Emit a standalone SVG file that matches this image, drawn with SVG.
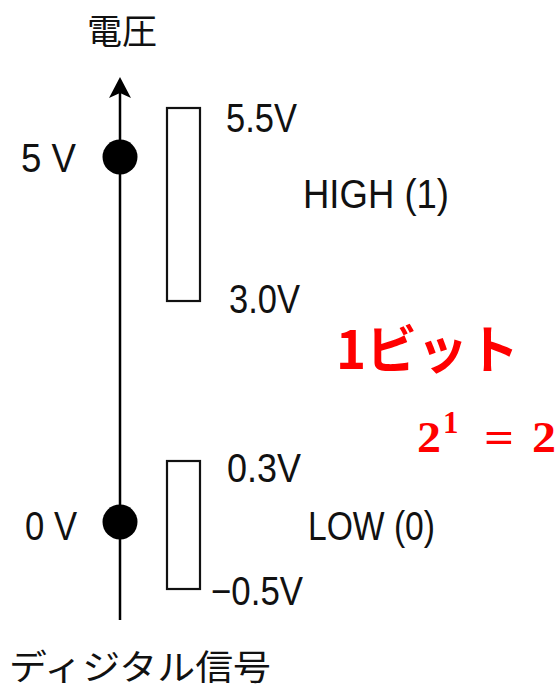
<svg xmlns="http://www.w3.org/2000/svg" width="559" height="690" viewBox="0 0 559 690">
<style>
.t{font-family:"Liberation Sans","Noto Sans CJK JP",sans-serif;font-size:40px;fill:#111}
.j{font-family:"Noto Sans CJK JP",sans-serif;font-size:35px;fill:#111}
.r{font-family:"Noto Sans CJK JP",sans-serif;font-weight:bold;font-size:52px;fill:#ff0000}
.m{font-family:"Liberation Serif",serif;font-weight:bold;fill:#ff0000}
.box{fill:#fff;stroke:#111;stroke-width:2.2}
</style>
<rect width="559" height="690" fill="#fff"/>
<g id="connectors">
<line x1="120" y1="620" x2="120" y2="92" stroke="#000" stroke-width="2.5"/>
<path d="M120 77 L131 98 L120 93 L109 98 Z" fill="#000"/>
</g>
<g id="axis-label"><text class="j" x="87" y="44">電圧</text></g>
<g id="axis-bottom-label"><text class="j" x="9" y="680" textLength="262" lengthAdjust="spacingAndGlyphs">ディジタル信号</text></g>
<g id="dot-5v"><circle cx="120" cy="157" r="17.5" fill="#000"/><text class="t" x="21" y="172" textLength="55" lengthAdjust="spacingAndGlyphs">5 V</text></g>
<g id="dot-0v"><circle cx="120" cy="522" r="17.5" fill="#000"/><text class="t" x="25" y="540" textLength="52" lengthAdjust="spacingAndGlyphs">0 V</text></g>
<g id="high-range">
<rect class="box" x="167" y="108" width="33" height="193"/>
<text class="t" x="226" y="132" textLength="71" lengthAdjust="spacingAndGlyphs">5.5V</text>
<text class="t" x="229" y="313" textLength="71" lengthAdjust="spacingAndGlyphs">3.0V</text>
<text class="t" x="303" y="208" textLength="146" lengthAdjust="spacingAndGlyphs">HIGH (1)</text>
</g>
<g id="low-range">
<rect class="box" x="167" y="461" width="33" height="128"/>
<text class="t" x="227" y="482" textLength="74" lengthAdjust="spacingAndGlyphs">0.3V</text>
<text class="t" x="211" y="605" textLength="92" lengthAdjust="spacingAndGlyphs">−0.5V</text>
<text class="t" x="308" y="540" textLength="127" lengthAdjust="spacingAndGlyphs">LOW (0)</text>
</g>
<g id="bit-label">
<text class="r" x="336" y="369" textLength="183" lengthAdjust="spacingAndGlyphs">1ビット</text>
</g>
<g id="formula">
<text class="m" x="417" y="452" font-size="44" textLength="24" lengthAdjust="spacingAndGlyphs">2</text>
<text class="m" x="443" y="433" font-size="31">1</text>
<text class="m" x="484" y="452" font-size="44" textLength="30" lengthAdjust="spacingAndGlyphs">=</text>
<text class="m" x="532" y="452" font-size="44" textLength="24" lengthAdjust="spacingAndGlyphs">2</text>
</g>
</svg>
